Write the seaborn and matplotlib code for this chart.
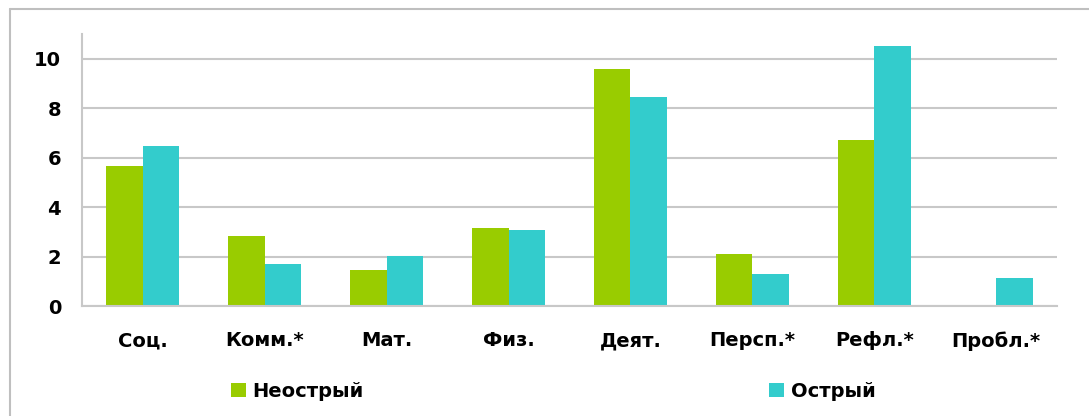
import matplotlib
matplotlib.use("Agg")
import matplotlib.pyplot as plt
import matplotlib.patches as mpatches
from matplotlib.lines import Line2D
import pandas as pd
import seaborn as sns

categories = ["Соц.", "Комм.*", "Мат.", "Физ.", "Деят.", "Персп.*", "Рефл.*", "Пробл.*"]
neostry = [5.65, 2.83, 1.45, 3.15, 9.6, 2.1, 6.7, 0.0]
ostry = [6.46, 1.70, 2.02, 3.06, 8.47, 1.29, 10.5, 1.13]
series_names = ["Неострый", "Острый"]
colors = ["#99cc00", "#33cccc"]

df = pd.DataFrame({
    "cat": categories * 2,
    "val": neostry + ostry,
    "group": [series_names[0]] * len(categories) + [series_names[1]] * len(categories),
})

sns.set_style("white")
plt.rcParams["font.family"] = ["DejaVu Sans"]
plt.rcParams["font.weight"] = "bold"
plt.rcParams["text.color"] = "black"
plt.rcParams["xtick.color"] = "black"
plt.rcParams["ytick.color"] = "black"

fig = plt.figure(figsize=(10.89, 4.16), dpi=100)
ax = fig.add_axes([0.0753, 0.2644, 0.8953, 0.6536])

sns.barplot(data=df, x="cat", y="val", hue="group", palette=colors,
            width=0.6, saturation=1, linewidth=0, ax=ax, legend=False)

grid_c = "#c8c8c8"
ax.set_ylim(0, 11)
ax.set_xlim(-0.5, len(categories) - 0.5)
ax.set_yticks(range(0, 11, 2))
ax.yaxis.grid(True, color=grid_c, linewidth=1.5)
ax.set_axisbelow(True)
ax.set_xlabel("")
ax.set_ylabel("")

for s in ["top", "right"]:
    ax.spines[s].set_visible(False)
for s in ["left", "bottom"]:
    ax.spines[s].set_color(grid_c)
    ax.spines[s].set_linewidth(1.5)

# category boundary ticks
ax.set_xticks([i - 0.5 for i in range(len(categories) + 1)], minor=False)
ax.set_xticklabels([])
ax.set_xticks(range(len(categories)), minor=True)
ax.set_xticklabels(categories, minor=True, fontsize=14, fontweight="bold", color="black")
ax.tick_params(axis="x", which="major", length=8, width=1.5, color=grid_c, direction="out")
ax.tick_params(axis="x", which="minor", length=0, pad=18)
ax.tick_params(axis="y", length=8, width=1.5, color=grid_c, direction="out", pad=7, labelsize=14)
for t in ax.get_yticklabels():
    t.set_fontweight("bold")
    t.set_color("black")

# legend entries placed apart
for name, col, xpos in zip(series_names, colors, [231 / 1089, 769 / 1089]):
    h = mpatches.Patch(facecolor=col, edgecolor="none", label=name)
    fig.legend(handles=[h], loc="center left", bbox_to_anchor=(xpos, 0.06),
               frameon=False, handlelength=0.76, handleheight=0.76,
               borderpad=0, borderaxespad=0, handletextpad=0.35,
               prop={"size": 14, "weight": "bold"})

# chart frame (left and top edges visible)
fx, fy = 9.5 / 1089, 1 - 8.5 / 416
fig.add_artist(Line2D([fx, 1], [fy, fy], transform=fig.transFigure, color="#bfbfbf", linewidth=1.5))
fig.add_artist(Line2D([fx, fx], [0, fy], transform=fig.transFigure, color="#bfbfbf", linewidth=1.5))

fig.savefig("out.png", dpi=100)
